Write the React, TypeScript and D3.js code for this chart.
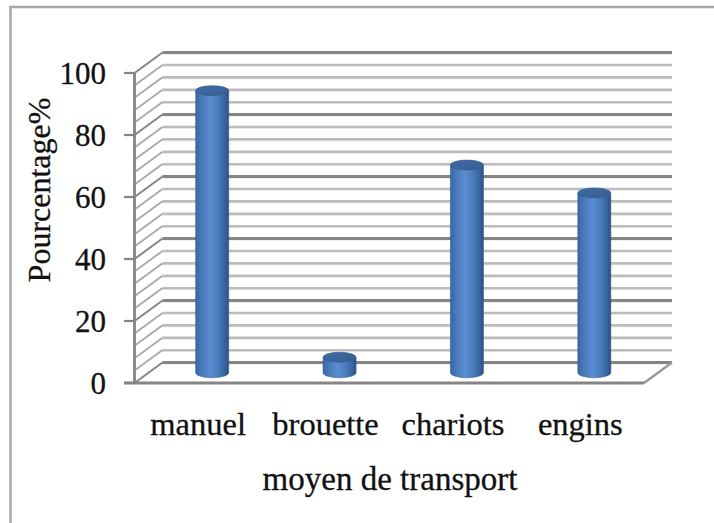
import React from "react";
import * as d3 from "d3";

const categories = ["manuel", "brouette", "chariots", "engins"];
const values = [91, 5, 67, 58];
const yTicks = [0, 20, 40, 60, 80, 100];
const xTitle = "moyen de transport";
const yTitle = "Pourcentage%";

const W = 714;
const H = 523;
const DX = 28;
const DY = -20.5;
const FONT = "Liberation Serif, Tinos, Times New Roman, DejaVu Serif, serif";

export default function App() {
  const yFront = d3.scaleLinear().domain([0, 100]).range([383, 73]);
  const x = d3.scaleBand<string>().domain(categories).range([134.5, 644]).padding(0);
  const xLeft = x.range()[0];
  const xRight = x.range()[1];
  const gridVals = d3.range(0, 101, 4);
  const rx = 16.5;
  const ry = 5;
  const textStyle = { fontFamily: FONT };

  return (
    <svg width={W} height={H} style={{ position: "absolute", left: 0, top: 0, background: "#fff" }}>
      <defs>
        <linearGradient id="cyl" x1="0" x2="1" y1="0" y2="0">
          <stop offset="0%" stopColor="#3a67a3" />
          <stop offset="22%" stopColor="#4b7dbf" />
          <stop offset="45%" stopColor="#5a8dd1" />
          <stop offset="72%" stopColor="#4778b9" />
          <stop offset="90%" stopColor="#37619b" />
          <stop offset="100%" stopColor="#2b4f80" />
        </linearGradient>
        <linearGradient id="cap" x1="0" x2="1" y1="0" y2="1">
          <stop offset="0%" stopColor="#3f6ba5" />
          <stop offset="100%" stopColor="#375f94" />
        </linearGradient>
      </defs>
      <rect x={10.5} y={7} width={740} height={560} fill="none" stroke="#a8a8a8" strokeWidth={2.5} />

      {gridVals.map((v) => {
        const major = v % 20 === 0;
        const yb = yFront(v) + DY;
        return (
          <g key={"g" + v}>
            <line x1={xLeft + DX} x2={xRight + DX} y1={yb + 1.2} y2={yb + 1.2}
              stroke="#e4e4e4" strokeWidth={1.5} />
            <line x1={xLeft + DX} x2={xRight + DX} y1={yb} y2={yb}
              stroke={major ? "#858585" : "#bcbcbc"} strokeWidth={major ? 2.8 : 2.4} />
            <line x1={xLeft} x2={xLeft + DX} y1={yFront(v)} y2={yb}
              stroke={major ? "#858585" : "#a8a8a8"} strokeWidth={major ? 2 : 1.8} />
          </g>
        );
      })}

      <line x1={xRight} y1={yFront(0)} x2={xRight + DX} y2={yFront(0) + DY} stroke="#969696" strokeWidth={2.2} />
      <line x1={124} x2={xRight} y1={yFront(0)} y2={yFront(0)} stroke="#858585" strokeWidth={2.8} />

      <line x1={xLeft} x2={xLeft} y1={yFront(100)} y2={yFront(0)} stroke="#858585" strokeWidth={2.8} />
      {yTicks.map((t) => (
        <g key={"t" + t}>
          <line x1={124} x2={xLeft} y1={yFront(t)} y2={yFront(t)} stroke="#858585" strokeWidth={2.2} />
          <text x={106} y={yFront(t)} dy="0.34em" textAnchor="end" style={textStyle} fontSize={31}
            fill="#111" stroke="#111" strokeWidth={0.3}>
            {t}
          </text>
        </g>
      ))}

      {categories.map((c, i) => {
        const cx = (x(c) as number) + x.bandwidth() / 2 + DX / 2;
        const yb = yFront(0) + DY / 2;
        const yt = yFront(values[i]) + DY / 2;
        const body = `M${cx - rx},${yt} L${cx - rx},${yb} A${rx},${ry} 0 0 0 ${cx + rx},${yb} L${cx + rx},${yt} Z`;
        return (
          <g key={"b" + c}>
            <path d={body} fill="url(#cyl)" stroke="#355d92" strokeWidth={0.6} />
            <ellipse cx={cx} cy={yt} rx={rx} ry={ry} fill="url(#cap)" stroke="#33598c" strokeWidth={0.6} />
          </g>
        );
      })}

      {categories.map((c) => (
        <text key={"l" + c} x={(x(c) as number) + x.bandwidth() / 2} y={435} textAnchor="middle"
          style={textStyle} fontSize={32.5} fill="#111" stroke="#111" strokeWidth={0.3}>
          {c}
        </text>
      ))}

      <text x={390} y={490} textAnchor="middle" style={textStyle} fontSize={33} fill="#111" stroke="#111" strokeWidth={0.3}>
        {xTitle}
      </text>
      <text transform="translate(50,190) rotate(-90)" textAnchor="middle" style={textStyle} fontSize={32}
        fill="#111" stroke="#111" strokeWidth={0.3}>
        {yTitle}
      </text>
    </svg>
  );
}
